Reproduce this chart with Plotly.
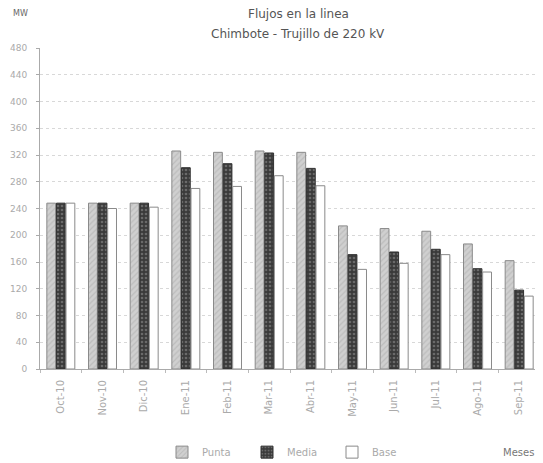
import plotly.graph_objects as go

meses = ["Oct-10", "Nov-10", "Dic-10", "Ene-11", "Feb-11", "Mar-11", "Abr-11",
         "May-11", "Jun-11", "Jul-11", "Ago-11", "Sep-11"]
punta = [248, 248, 248, 326, 324, 326, 324, 214, 210, 206, 187, 162]
media = [248, 248, 248, 301, 307, 323, 300, 171, 175, 179, 150, 118]
base = [248, 240, 242, 270, 273, 289, 274, 149, 158, 171, 145, 109]
y_ticks = list(range(0, 481, 40))
titulo_1 = "Flujos en la linea"
titulo_2 = "Chimbote - Trujillo de 220 kV"

font_family = "DejaVu Sans, Verdana, sans-serif"

fig = go.Figure()
fig.add_trace(go.Bar(
    name="Punta", x=meses, y=punta,
    marker=dict(color="#d0d0d0", line=dict(color="#8a8a8a", width=1),
                pattern=dict(shape="/", fgcolor="#a8a8a8", size=4, solidity=0.3)),
))
fig.add_trace(go.Bar(
    name="Media", x=meses, y=media,
    marker=dict(color="#3a3a3a", line=dict(color="#303030", width=1),
                pattern=dict(shape=".", fgcolor="#9a9a9a", bgcolor="#3a3a3a", size=4, solidity=0.35)),
))
fig.add_trace(go.Bar(
    name="Base", x=meses, y=base,
    marker=dict(color="#ffffff", line=dict(color="#8a8a8a", width=1)),
))

# page body has an 8px margin, so the figure is sized to the visible area
fig.update_layout(
    width=535, height=455,
    margin=dict(l=32, r=3, t=40, b=94, autoexpand=False),
    paper_bgcolor="white", plot_bgcolor="white",
    barmode="group", bargap=0.31, bargroupgap=0.08,
    font=dict(family=font_family, color="#999999", size=10),
    showlegend=True,
    legend=dict(orientation="h", x=0.244, xanchor="left", y=-0.259, yanchor="middle",
                font=dict(size=10, color="#aaaaaa"), itemwidth=30,
                entrywidth=40, entrywidthmode="pixels",
                tracegroupgap=0, bgcolor="rgba(0,0,0,0)"),
    annotations=[
        dict(text=titulo_1, xref="paper", yref="paper", x=0.516, y=1.106, xanchor="center",
             yanchor="middle", showarrow=False, font=dict(size=12, color="#555555")),
        dict(text=titulo_2, xref="paper", yref="paper", x=0.516, y=1.044, xanchor="center",
             yanchor="middle", showarrow=False, font=dict(size=12, color="#555555")),
        dict(text="MW", xref="paper", yref="paper", x=-0.04, y=1.108, xanchor="center",
             yanchor="middle", showarrow=False, font=dict(size=8, color="#666666")),
        dict(text="Meses", xref="paper", yref="paper", x=0.992, y=-0.259, xanchor="right",
             yanchor="middle", showarrow=False, font=dict(size=10, color="#777777")),
    ],
)
fig.update_yaxes(range=[0, 480], tickvals=y_ticks, showgrid=True, automargin=False,
                 gridcolor="#d8d8d8", griddash="dot", gridwidth=1,
                 showline=True, linecolor="#aaaaaa", ticks="outside", ticklen=3,
                 ticklabelstandoff=7,
                 tickcolor="#aaaaaa", tickfont=dict(size=9, color="#aaaaaa"))
fig.update_xaxes(tickangle=-90, showline=True, linecolor="#aaaaaa", automargin=False,
                 tickfont=dict(size=10, color="#aaaaaa"), ticks="outside",
                 ticklabelstandoff=6,
                 tickson="boundaries", ticklen=3, tickcolor="#bbbbbb")

fig.write_html("out.html")
